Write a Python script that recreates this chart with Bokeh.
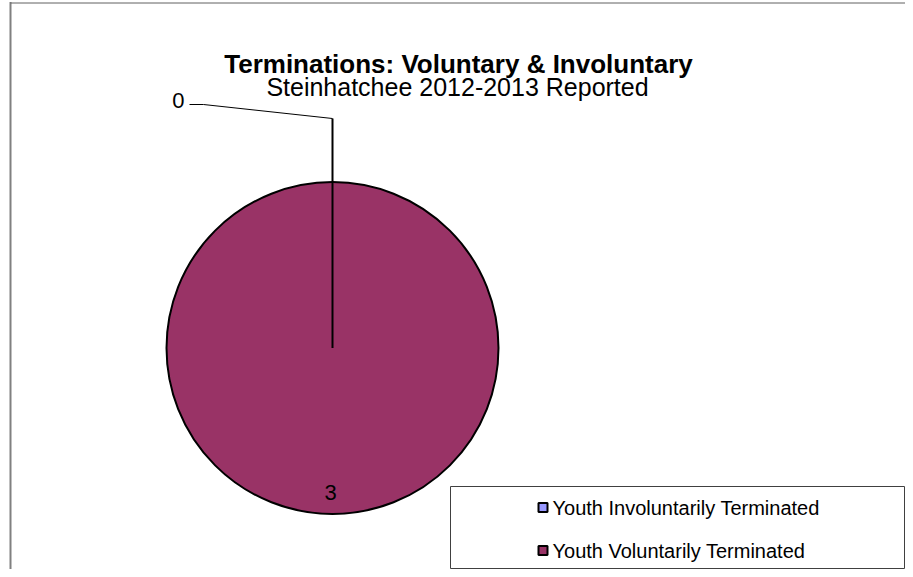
import math
from bokeh.plotting import figure
from bokeh.models import Range1d
from bokeh.core.properties import value
from bokeh.embed import file_html
from bokeh.resources import INLINE

# ---- data ----
categories = ["Youth Involuntarily Terminated", "Youth Voluntarily Terminated"]
counts = [0, 3]
colors = ["#9999FF", "#993366"]
title_text = "Terminations: Voluntary & Involuntary"
subtitle_text = "Steinhatchee 2012-2013 Reported"

W, H = 905, 569
FONT = value("Liberation Sans")

def px(x):
    return x

def py(y):
    return H - y

p = figure(width=W, height=H, output_backend="svg", toolbar_location=None,
           x_range=Range1d(0, W), y_range=Range1d(0, H), min_border=0,
           outline_line_color=None)
p.xaxis.visible = False
p.yaxis.visible = False
p.grid.visible = False
p.background_fill_color = "white"
p.border_fill_color = "white"

# chart frame (left and top edges visible)
p.line([px(10), px(10)], [py(1.5), py(H)], line_color="#808080", line_width=2)
p.line([px(10), px(W)], [py(2.5), py(2.5)], line_color="#606060", line_width=1)

# ---- pie ----
cx, cy, r = px(332), py(347.5), 166
total = sum(counts)
starts, ends, mids = [], [], []
cum = 0
for v in counts:
    a0 = math.pi / 2 - 2 * math.pi * cum / total
    a1 = a0 - 2 * math.pi * v / total
    starts.append(a0)
    ends.append(a1)
    mids.append((a0 + a1) / 2)
    cum += v

for v, a0, a1, c in zip(counts, starts, ends, colors):
    if v / total >= 0.999999:
        p.scatter([cx], [cy], size=2 * r, fill_color=c, line_color="black", line_width=2)
        p.line([cx, cx + r * math.cos(a0)], [cy, cy + r * math.sin(a0)],
               line_color="black", line_width=2)
    elif v > 0:
        p.wedge(x=cx, y=cy, radius=r, start_angle=a1, end_angle=a0,
                fill_color=c, line_color="black", line_width=2)
    else:
        p.line([cx, cx + r * math.cos(a0)], [cy, cy + r * math.sin(a0)],
               line_color="black", line_width=2)

# ---- data labels ----
for v, m in zip(counts, mids):
    if v == 0:
        ex, ey = cx + r * math.cos(m), cy + r * math.sin(m)
        lx = [ex, ex, px(203), px(189)]
        ly = [ey, py(118), py(104), py(104)]
        p.line(lx[:2], ly[:2], line_color="black", line_width=2)
        p.line(lx[1:], ly[1:], line_color="black", line_width=1)
        p.text(x=[px(184)], y=[py(100)], text=[str(v)], text_align="right",
               text_baseline="middle", text_font=FONT, text_font_size="22px",
               text_color="black")
    else:
        p.text(x=[cx + 0.87 * r * math.cos(m) - 2], y=[cy + 0.87 * r * math.sin(m)],
               text=[str(v)], text_align="center", text_baseline="middle",
               text_font=FONT, text_font_size="22px", text_color="black")

# ---- titles ----
p.text(x=[px(458)], y=[py(63)], text=[title_text], text_align="center",
       text_baseline="middle", text_font=FONT, text_font_size="26px",
       text_font_style="bold", text_color="black")
p.text(x=[px(457)], y=[py(86)], text=[subtitle_text], text_align="center",
       text_baseline="middle", text_font=FONT, text_font_size="25px",
       text_color="black")

# ---- legend ----
p.quad(left=[px(450)], right=[px(904)], top=[py(486)], bottom=[py(568)],
       fill_color="white", line_color="#404040", line_width=1)
leg_y = [py(507), py(550)]
p.rect(x=[px(542.5)] * len(categories), y=leg_y, width=9, height=9,
       fill_color=colors, line_color="black", line_width=2)
p.text(x=[px(552)] * len(categories), y=leg_y, text=categories,
       text_align="left", text_baseline="middle", text_font=FONT,
       text_font_size="20px", text_color="black")

open("out.html", "w").write(file_html(p, INLINE))
